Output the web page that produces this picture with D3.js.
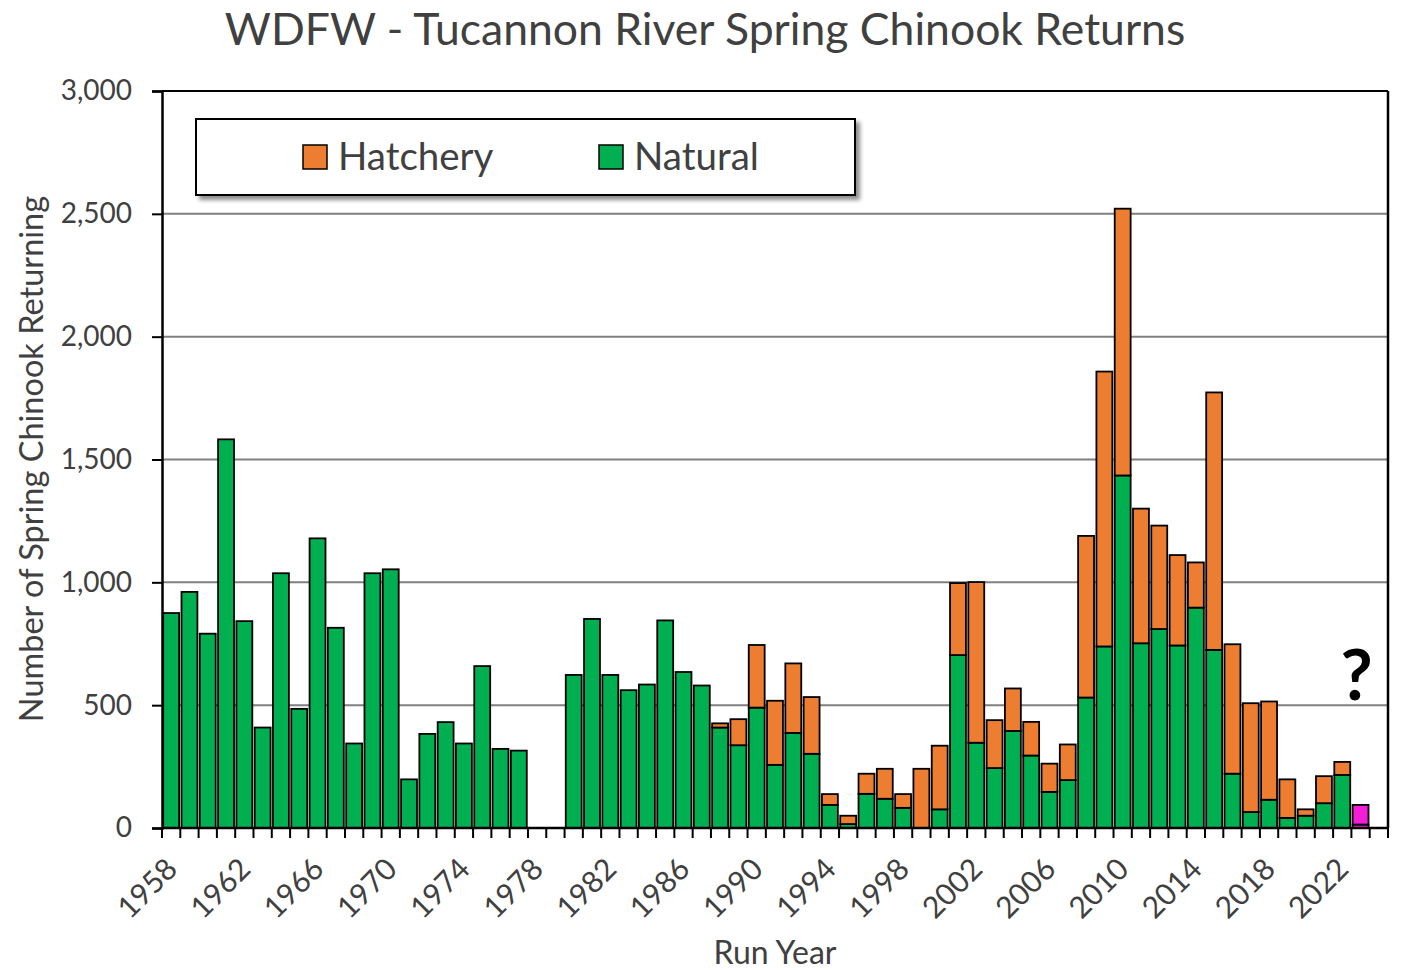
<!DOCTYPE html>
<html>
<head>
<meta charset="utf-8">
<script src="https://cdn.jsdelivr.net/npm/d3@7"></script>
<style>
  body { margin: 0; background: #fff; }
  text { font-family: Lato, "Open Sans", sans-serif; fill: #404040; }
</style>
</head>
<body>
<script>
// Run years (1978/1979 had no count, 2024 is an empty slot at the end)
var years = d3.range(1958, 2025);

// Natural origin returns
var natural = [875, 961, 791, 1582, 842, 409, 1037, 485, 1179, 815,
  344, 1037, 1053, 198, 383, 431, 344, 659, 322, 315,
  0, 0, 623, 851, 623, 561, 584, 845, 635, 580,
  409, 337, 490, 257, 387, 302, 94, 16, 139, 119,
  82, 0, 76, 704, 347, 244, 395, 295, 147, 195,
  531, 739, 1435, 752, 810, 743, 897, 725, 221, 65,
  115, 41, 50, 101, 216, 14, 0];

// Hatchery origin returns
var hatchery = [0, 0, 0, 0, 0, 0, 0, 0, 0, 0,
  0, 0, 0, 0, 0, 0, 0, 0, 0, 0,
  0, 0, 0, 0, 0, 0, 0, 0, 0, 0,
  17, 106, 255, 261, 283, 231, 44, 34, 82, 122,
  56, 241, 259, 293, 654, 195, 173, 137, 115, 145,
  658, 1119, 1086, 548, 421, 368, 184, 1048, 527, 443,
  400, 157, 26, 110, 53, 80, 0];

// Preliminary year, drawn in magenta
var prelimYears = [2023];

var yTicks = [0, 500, 1000, 1500, 2000, 2500, 3000];
var xLabelYears = d3.range(1958, 2023, 4);
var seriesNames = ["Hatchery", "Natural"];

var colors = { Natural: "#00B050", Hatchery: "#ED7D31", prelim: "#F21DD6" };

var svgWidth = 1417;
var svgHeight = 970;
var margin = { top: 91, right: 29, bottom: 142, left: 162 };
var chartWidth = svgWidth - margin.left - margin.right;
var chartHeight = svgHeight - margin.top - margin.bottom;

var svg = d3.select("body").append("svg")
  .attr("width", svgWidth)
  .attr("height", svgHeight);

var defs = svg.append("defs");
var shadow = defs.append("filter").attr("id", "shadow")
  .attr("x", "-5%").attr("y", "-20%").attr("width", "115%").attr("height", "150%");
shadow.append("feDropShadow")
  .attr("dx", 4).attr("dy", 4).attr("stdDeviation", 2)
  .attr("flood-color", "#000").attr("flood-opacity", 0.45);

var chartGroup = svg.append("g")
  .attr("transform", `translate(${margin.left}, ${margin.top})`);

var x = d3.scaleBand()
  .domain(years)
  .range([0, chartWidth])
  .paddingInner(0.13)
  .paddingOuter(0.065);

var y = d3.scaleLinear()
  .domain([0, 3000])
  .range([chartHeight, 0]);

// gridlines
chartGroup.append("g")
  .selectAll("line")
  .data(yTicks.filter(d => d > 0 && d < 3000))
  .enter().append("line")
  .attr("x1", 0).attr("x2", chartWidth)
  .attr("y1", d => y(d)).attr("y2", d => y(d))
  .attr("stroke", "#808080")
  .attr("stroke-width", 2);

// build stacked rows
var rows = years.map(function(yr, i) {
  return { year: yr, natural: natural[i], hatchery: hatchery[i] };
});
var stack = d3.stack().keys(["natural", "hatchery"]);
var layers = stack(rows);

layers.forEach(function(layer) {
  var name = layer.key === "natural" ? "Natural" : "Hatchery";
  chartGroup.append("g")
    .selectAll("rect")
    .data(layer.filter(d => d[1] - d[0] > 0))
    .enter().append("rect")
    .attr("x", d => x(d.data.year))
    .attr("width", x.bandwidth())
    .attr("y", d => y(d[1]))
    .attr("height", d => y(d[0]) - y(d[1]))
    .attr("fill", d => prelimYears.includes(d.data.year) ? colors.prelim : colors[name])
    .attr("stroke", "#000")
    .attr("stroke-width", 1.8);
});

// frame: top and right border
chartGroup.append("line")
  .attr("x1", 0).attr("x2", chartWidth).attr("y1", 0).attr("y2", 0)
  .attr("stroke", "#000").attr("stroke-width", 2);
chartGroup.append("line")
  .attr("x1", chartWidth).attr("x2", chartWidth).attr("y1", 0).attr("y2", chartHeight)
  .attr("stroke", "#000").attr("stroke-width", 2.5);

// y axis
var leftAxis = d3.axisLeft(y)
  .tickValues(yTicks)
  .tickSize(10)
  .tickPadding(20)
  .tickFormat(d3.format(","));
var yAxisG = chartGroup.append("g").call(leftAxis);
yAxisG.select(".domain").attr("stroke", "#000").attr("stroke-width", 2.5);
yAxisG.selectAll(".tick line").attr("stroke", "#000").attr("stroke-width", 2);
yAxisG.selectAll(".tick text")
  .attr("font-family", "Lato, sans-serif")
  .attr("font-size", 28)
  .attr("fill", "#404040");

// x axis: ticks between categories
var xAxisG = chartGroup.append("g")
  .attr("transform", `translate(0, ${chartHeight})`);
xAxisG.append("line")
  .attr("x1", 0).attr("x2", chartWidth)
  .attr("stroke", "#000").attr("stroke-width", 2.5);
var step = x.step();
var boundaries = years.map(d => x(d) - x.paddingInner() * step / 2).concat([chartWidth]);
boundaries[0] = 0;
xAxisG.selectAll(".xtick")
  .data(boundaries)
  .enter().append("line")
  .attr("class", "xtick")
  .attr("x1", d => d).attr("x2", d => d)
  .attr("y1", 0).attr("y2", 10)
  .attr("stroke", "#000").attr("stroke-width", 2);

xAxisG.selectAll(".xlabel")
  .data(xLabelYears)
  .enter().append("text")
  .attr("class", "xlabel")
  .attr("transform", d => `translate(${x(d) + x.bandwidth() / 2 + 8}, 43) rotate(-45)`)
  .attr("text-anchor", "end")
  .attr("font-size", 30)
  .text(d => d);

// question mark over the preliminary year
chartGroup.append("text")
  .attr("x", x(2023) + x.bandwidth() / 2 - 4)
  .attr("y", y(520))
  .attr("text-anchor", "middle")
  .attr("font-family", "'Liberation Sans', Arial, sans-serif")
  .attr("font-weight", "bold")
  .attr("font-size", 70)
  .style("fill", "#000")
  .text("?");

// titles
svg.append("text")
  .attr("x", 705)
  .attr("y", 45)
  .attr("text-anchor", "middle")
  .attr("font-size", 44.5)
  .text("WDFW - Tucannon River Spring Chinook Returns");

svg.append("text")
  .attr("x", 775)
  .attr("y", 964)
  .attr("text-anchor", "middle")
  .attr("font-size", 32)
  .text("Run Year");

svg.append("text")
  .attr("transform", "translate(43, 459) rotate(-90)")
  .attr("text-anchor", "middle")
  .attr("font-size", 32.5)
  .text("Number of Spring Chinook Returning");

// legend
var legend = svg.append("g").attr("transform", "translate(196, 119)");
legend.append("rect")
  .attr("width", 659).attr("height", 76)
  .attr("fill", "#fff")
  .attr("stroke", "#000").attr("stroke-width", 2)
  .attr("filter", "url(#shadow)");
var legendX = [107, 403];
seriesNames.forEach(function(name, i) {
  legend.append("rect")
    .attr("x", legendX[i]).attr("y", 26)
    .attr("width", 24).attr("height", 24)
    .attr("fill", colors[name])
    .attr("stroke", "#000").attr("stroke-width", 1.5);
  legend.append("text")
    .attr("x", legendX[i] + 35).attr("y", 51)
    .attr("font-size", 38.5)
    .text(name);
});
</script>
</body>
</html>
